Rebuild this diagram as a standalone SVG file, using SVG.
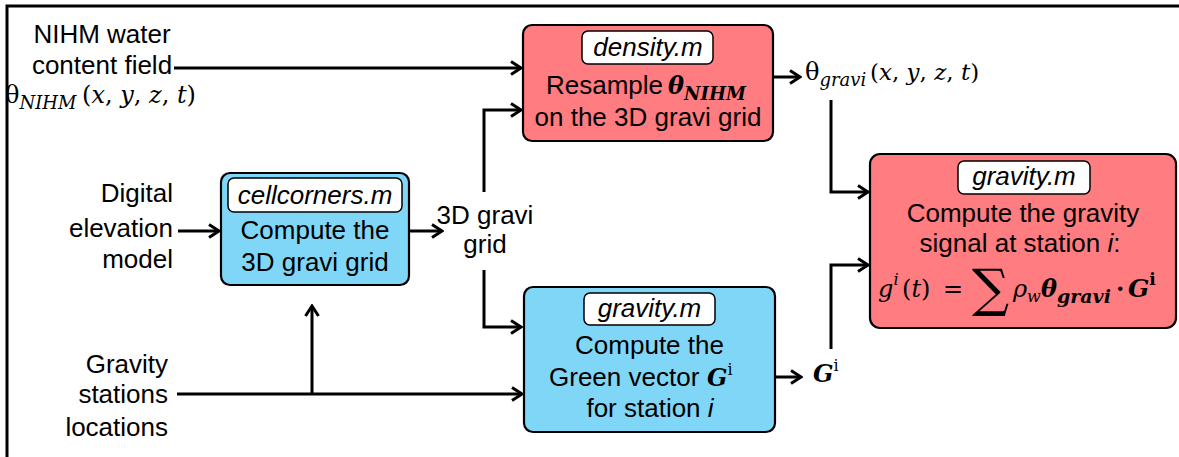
<svg xmlns="http://www.w3.org/2000/svg" width="1179" height="457" viewBox="0 0 1179 457">
<defs>
<style>
.t{font-family:"Liberation Sans",Arial,sans-serif;font-size:26px;fill:#000}
.it{font-style:italic}
.m{font-family:"DejaVu Serif","Liberation Serif",serif;font-size:24px;fill:#000}
.bi{font-family:"DejaVu Serif","Liberation Serif",serif;font-weight:bold;font-style:italic}
.box{stroke:#000;stroke-width:2.2}
.red{fill:#FF7C80}
.blue{fill:#7FD6F6}
.lbl{fill:#fff;stroke:#000;stroke-width:1.5}
.c{stroke:#000;stroke-width:3;fill:none;marker-end:url(#ah)}
.frame{stroke:#000;stroke-width:3;fill:none}
</style>
<marker id="ah" viewBox="0 0 14 16" refX="12" refY="8" markerWidth="14" markerHeight="16" markerUnits="userSpaceOnUse" orient="auto">
<path d="M2,1.5 L12,8 L2,14.5" fill="none" stroke="#000" stroke-width="3"/>
</marker>
</defs>
<g id="frame">
<path class="frame" d="M7,457 V6 H1179"/>
</g>
<g id="connectors">
<path class="c" d="M174,68 H521"/>
<path class="c" d="M484,192 V110 H521"/>
<path class="c" d="M484,270 V327 H521"/>
<path class="c" d="M410,231 H442"/>
<path class="c" d="M178,231 H219"/>
<path class="c" d="M177,394 H522"/>
<path class="c" d="M312,394 V306"/>
<path class="c" d="M774,77 H800"/>
<path class="c" d="M831,100 V192 H868"/>
<path class="c" d="M776,377 H801"/>
<path class="c" d="M831,349 V265 H868"/>
</g>
<g id="input-nihm">
<text class="t" x="102" y="43" text-anchor="middle">NIHM water</text>
<text class="t" x="102" y="74" text-anchor="middle">content field</text>
<text class="m" x="5" y="103" font-size="25">θ<tspan class="it" font-size="18" dy="6">NIHM</tspan><tspan x="82" dy="-6">(</tspan><tspan class="it">x</tspan>, <tspan class="it">y</tspan>, <tspan class="it">z</tspan>, <tspan class="it">t</tspan>)</text>
</g>
<g id="input-dem">
<text class="t" x="173" y="202" text-anchor="end">Digital</text>
<text class="t" x="173" y="237" text-anchor="end">elevation</text>
<text class="t" x="173" y="268" text-anchor="end">model</text>
</g>
<g id="input-stations">
<text class="t" x="168" y="373" text-anchor="end">Gravity</text>
<text class="t" x="168" y="403" text-anchor="end">stations</text>
<text class="t" x="168" y="436" text-anchor="end">locations</text>
</g>
<g id="node-cellcorners">
<rect class="box blue" x="221" y="173" width="188" height="112" rx="9"/>
<rect class="lbl" x="228" y="178" width="174" height="34" rx="6"/>
<text class="t it" x="315" y="204" text-anchor="middle">cellcorners.m</text>
<text class="t" x="315" y="239" text-anchor="middle">Compute the</text>
<text class="t" x="315" y="271" text-anchor="middle">3D gravi grid</text>
</g>
<g id="label-grid">
<text class="t" x="485" y="224" text-anchor="middle">3D gravi</text>
<text class="t" x="485" y="253" text-anchor="middle">grid</text>
</g>
<g id="node-density">
<rect class="box red" x="523" y="25" width="250" height="116" rx="9"/>
<rect class="lbl" x="582" y="31" width="131" height="33" rx="6"/>
<text class="t it" x="648" y="56" text-anchor="middle">density.m</text>
<text class="t" x="546" y="94">Resample<tspan class="bi" x="668" font-size="24">θ</tspan><tspan class="bi" font-size="18" dy="6">NIHM</tspan></text>
<text class="t" x="648" y="126" text-anchor="middle">on the 3D gravi grid</text>
</g>
<g id="label-theta-gravi">
<text class="m" x="805" y="80" font-size="24">θ<tspan class="it" font-size="18" dy="6">gravi</tspan><tspan x="870" dy="-6" font-size="23">(</tspan><tspan class="it" font-size="23">x</tspan><tspan font-size="23">, </tspan><tspan class="it" font-size="23">y</tspan><tspan font-size="23">, </tspan><tspan class="it" font-size="23">z</tspan><tspan font-size="23">, </tspan><tspan class="it" font-size="23">t</tspan><tspan font-size="23">)</tspan></text>
</g>
<g id="node-green">
<rect class="box blue" x="524" y="287" width="251" height="145" rx="9"/>
<rect class="lbl" x="584" y="293" width="131" height="32" rx="6"/>
<text class="t it" x="649.5" y="317" text-anchor="middle">gravity.m</text>
<text class="t" x="649.5" y="354" text-anchor="middle">Compute the</text>
<text class="t" x="549" y="386">Green vector<tspan class="bi" x="707" font-size="24">G</tspan><tspan font-family="DejaVu Serif,serif" font-size="16" dy="-11">i</tspan></text>
<text class="t" x="650" y="417" text-anchor="middle">for station <tspan class="it">i</tspan></text>
</g>
<g id="label-G">
<text class="bi" x="813" y="382" font-size="24">G<tspan font-family="DejaVu Serif,serif" font-weight="normal" font-style="normal" font-size="16" dy="-11">i</tspan></text>
</g>
<g id="node-gravity">
<rect class="box red" x="870" y="154" width="306" height="174" rx="10"/>
<rect class="lbl" x="958" y="161" width="132" height="33" rx="6"/>
<text class="t it" x="1024" y="185" text-anchor="middle">gravity.m</text>
<text class="t" x="1023" y="222" text-anchor="middle">Compute the gravity</text>
<text class="t" x="1020" y="252" text-anchor="middle">signal at station <tspan class="it">i</tspan>:</text>
<text class="m" x="878" y="297" font-size="24"><tspan class="it">g</tspan><tspan class="it" font-size="16" dy="-12">i</tspan><tspan x="902" dy="12">(</tspan><tspan class="it">t</tspan>)<tspan x="943">=</tspan><tspan x="972" font-size="52" dy="9">∑</tspan><tspan class="it" x="1013" dy="-9">ρ</tspan><tspan class="it" font-size="16" dy="5">w</tspan><tspan class="bi" x="1041" dy="-5">θ</tspan><tspan class="bi" font-size="19" dy="6">gravi</tspan><tspan font-weight="bold" x="1116" dy="-6">·</tspan><tspan class="bi" x="1128" font-size="25">G</tspan><tspan font-weight="bold" font-size="17" dy="-12">i</tspan></text>
</g>
</svg>
